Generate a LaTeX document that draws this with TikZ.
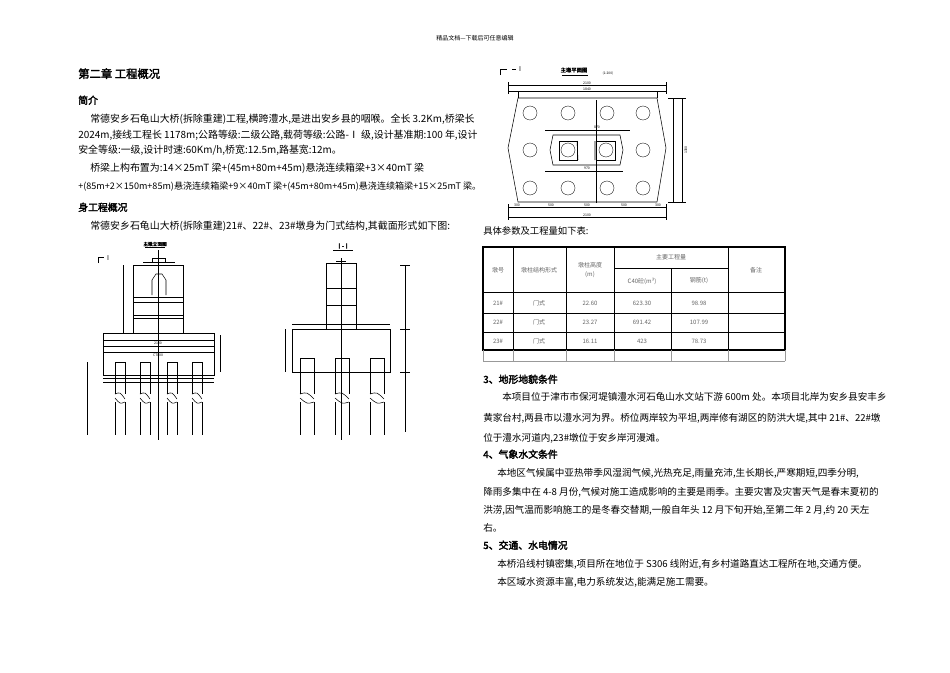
\documentclass[tikz,border=0pt]{standalone}
\usepackage{fontspec}
\setmainfont{Noto Sans CJK SC}[AutoFakeBold=2.5]
\begin{document}
\begin{tikzpicture}[x=0.75pt,y=-0.75pt,
  txt/.style={anchor=base west,inner sep=0,font=\fontsize{7.2}{8}\selectfont},
  ltxt/.style={anchor=base west,inner sep=0,font=\fontsize{7.45}{8}\selectfont},
  hd/.style={anchor=base west,inner sep=0,font=\fontsize{7.4}{8}\bfseries},
  ln/.style={line width=0.4pt},
  thin/.style={line width=0.25pt},
  dim/.style={inner sep=0,font=\fontsize{2.6}{3}\selectfont},
  cell/.style={anchor=center,inner sep=0,font=\fontsize{4.5}{5}\selectfont,text=black!60},
  pile/.style={draw,line width=0.4pt}]
\useasboundingbox (0,0) rectangle (950,672);
\fill[white] (0,0) rectangle (950,672);
\node[inner sep=0,font=\fontsize{4.5}{5}\selectfont] (hdr) at (475,38) {精品文档---下载后可任意编辑};
% left column
\node[anchor=base west,inner sep=0,font=\fontsize{8.5}{9}\bfseries] (ch) at (78,78) {第二章\ 工程概况};
\node[hd] (h1) at (78,104) {简介};
\node[ltxt] (l1) at (90,122) {常德安乡石龟山大桥(拆除重建)工程,横跨澧水,是进出安乡县的咽喉。全长 3.2Km,桥梁长};
\node[ltxt] (l2) at (78,138) {2024m,接线工程长 1178m;公路等级:二级公路,载荷等级:公路-Ⅰ 级,设计基准期:100 年,设计};
\node[ltxt] (l3) at (78,153) {安全等级:一级,设计时速:60Km/h,桥宽:12.5m,路基宽:12m。};
\node[ltxt] (l4) at (90,171) {桥梁上构布置为:14×25mT 梁+(45m+80m+45m)悬浇连续箱梁+3×40mT 梁};
\node[anchor=base west,inner sep=0,font=\fontsize{6.8}{8}\selectfont] (l5) at (78,189) {+(85m+2×150m+85m)悬浇连续箱梁+9×40mT 梁+(45m+80m+45m)悬浇连续箱梁+15×25mT 梁。};
\node[hd] (h2) at (78,211) {身工程概况};
\node[ltxt] (l6) at (90,229) {常德安乡石龟山大桥(拆除重建)21\#、22\#、23\#墩身为门式结构,其截面形式如下图:};
% elevation drawing
\node[inner sep=0,font=\fontsize{3.5}{4}\bfseries] (t1) at (155,244) {主墩立面图};
\draw[thin] (145,247)--(165,247);
\draw[ln] (98,263)--(98,257)--(104,257); \node[inner sep=0,font=\fontsize{5}{5}\selectfont] (sI) at (108,258) {I};
\draw[ln] (133,265) rectangle (183,333);
\draw[ln] (133,297)--(183,297) (133,302)--(183,302) (133,315)--(183,315) (133,318)--(183,318);
\draw[ln] (152,295)--(152,280)--(156,274)--(162,274)--(166,280)--(166,295);
\draw[ln] (143,262)--(175,262) (152,258)--(165,258)--(165,262) (152,258)--(152,262);
\draw[thin] (158,250)--(158,440);
\draw[ln] (103,333) rectangle (214,375);
\draw[ln] (103,340)--(214,340) (103,346)--(214,346) (103,352)--(214,352);
\draw[thin] (103,378)--(214,378) (103,382)--(214,382);
\draw[thin] (123,265)--(123,333) (87,362)--(87,435) (220,335)--(220,372);
\node[dim] (e1) at (158,343) {2100}; \node[dim] (e2) at (158,355) {C7000};
\foreach \c in {120,145,172,197}{
  \draw[pile] (\c-5,362)--(\c-5,394) (\c+5,362)--(\c+5,394) (\c-5,402)--(\c-5,435) (\c+5,402)--(\c+5,435);
  \draw[ln] (\c-5,394)..controls (\c,392) .. (\c+5,399) (\c-5,398)..controls (\c,404)..(\c+5,402);
  \draw[thin] (\c-5,362)--(\c+5,362);}
% I-I section
\node[inner sep=0,font=\fontsize{5}{5}\bfseries] (t2) at (343,246) {I - I};
\draw[thin] (333,250)--(353,250);
\draw[ln] (326,263) rectangle (356,329);
\draw[ln] (326,288)--(356,288) (326,305)--(356,305) (336,261)--(346,261);
\draw[thin] (341,258)--(341,440);
\draw[ln] (292,324)--(390,324);
\draw[ln] (292,329) rectangle (390,372);
\foreach \c in {307,342,377}{
  \draw[pile] (\c-7,358)--(\c-7,394) (\c+7,358)--(\c+7,394) (\c-7,402)--(\c-7,435) (\c+7,402)--(\c+7,435);
  \draw[ln] (\c-7,394)..controls (\c,392) .. (\c+7,399) (\c-7,398)..controls (\c,404)..(\c+7,402);
  \draw[thin] (\c-7,358)--(\c+7,358);}
\draw[thin] (285,329)--(285,372) (405,265)--(405,432) (400,265)--(410,265) (400,329)--(410,329) (400,372)--(410,372);
% plan drawing
\draw[ln] (500,75)--(500,69)--(507,69); \node[inner sep=0,font=\fontsize{5}{5}\selectfont] (pI) at (520,69) {I};
\draw[thin] (512,69)--(516,69);
\node[inner sep=0,font=\fontsize{4}{4}\bfseries] (t3) at (574,70) {主墩平面图};
\node[inner sep=0,font=\fontsize{2.5}{3}\selectfont] (t3b) at (608,73) {(1:200)};
\draw[thin] (562,75)--(588,75);
\draw[ln] (518,98)--(657,98)--(666,148)--(657,202)--(518,202)--(508,148)--cycle;
\draw[thin] (508,85)--(666,85) (508,91)--(666,91) (508,82)--(508,94) (666,82)--(666,94) (518,91)--(518,98) (657,91)--(657,98);
\draw[thin] (508,207)--(666,207) (508,217)--(666,217) (508,204)--(508,220) (666,204)--(666,220);
\draw[thin] (673,98)--(673,202) (682,98)--(682,202) (668,98)--(686,98) (668,202)--(686,202);
\node[dim] (d1) at (587,83) {2100}; \node[dim] (d2) at (587,89) {1840};
\node[dim] (d3) at (587,215) {2100}; \node[dim,rotate=90] (d4) at (686,150) {1300};
\foreach \x/\t in {517/300,551/500,587/500,624/500,658/300} \node[dim] at (\x,205) {\t};
\foreach \x/\y in {530/113,568/113,607/113,643/113,530/150,643/150,530/188,568/188,607/188,643/188}
  \draw[thin] (\x,\y) circle (7);
\draw[ln] (550,150)--(553,135)--(620,135)--(623,150)--(620,165)--(553,165)--cycle;
\draw[ln] (559,141) rectangle (577,160) (596,141) rectangle (615,160);
\draw[thin] (568,150) circle (7) (606,150) circle (7);
\draw[ln] (577,141)--(578,160) (595,141)--(595,160);
\draw[thin] (596,100)--(596,203);
\draw[thin] (545,171)--(623,171) (545,130)--(630,130);
\node[dim] (d5) at (587,168) {970}; \node[dim] (d6) at (597,127) {870};
% table
\node[anchor=base west,inner sep=0,font=\fontsize{7}{8}\selectfont] (tt) at (483,234) {具体参数及工程量如下表:};
\draw[line width=0.8pt] (483,247) rectangle (785,350);
\draw[line width=0.6pt] (483,292)--(785,292) (483,313)--(785,313) (483,332)--(785,332) (614,268)--(728,268);
\draw[line width=0.6pt] (513,247)--(513,350) (566,247)--(566,350) (614,247)--(614,350) (728,247)--(728,350) (671,268)--(671,350);
\draw[thin,black!40] (483,350)--(483,361) (513,350)--(513,361) (566,350)--(566,361) (614,350)--(614,361) (671,350)--(671,361) (728,350)--(728,361) (785,350)--(785,361) (483,361)--(785,361);
\node[cell] (c1) at (498,270) {墩号};
\node[cell] (c2) at (539,270) {墩柱结构形式};
\node[cell] (c3) at (590,265) {墩柱高度};
\node[cell] (c3b) at (590,275) {(m)};
\node[cell] (c4) at (671,257) {主要工程量};
\node[cell] (c5) at (642,281) {C40砼(m³)};
\node[cell] (c6) at (699,281) {钢筋(t)};
\node[cell] (c7) at (756,270) {备注};
\foreach \y/\a/\b/\c/\d in {303/21\#/22.60/623.30/98.98, 322/22\#/23.27/691.42/107.99, 341/23\#/16.11/423/78.73}{
  \node[cell] at (498,\y) {\a};
  \node[cell] at (539,\y) {门式};
  \node[cell] at (590,\y) {\b};
  \node[cell] at (642,\y) {\c};
  \node[cell] at (699,\y) {\d};}
% right text
\node[hd] (h3) at (483,383) {3、地形地貌条件};
\node[txt] (r1) at (502,400) {本项目位于津市市保河堤镇澧水河石龟山水文站下游 600m 处。本项目北岸为安乡县安丰乡};
\node[txt] (r2) at (483,421) {黄家台村,两县市以澧水河为界。桥位两岸较为平坦,两岸修有湖区的防洪大堤,其中 21\#、22\#墩};
\node[txt] (r3) at (483,441) {位于澧水河道内,23\#墩位于安乡岸河漫滩。};
\node[hd] (h4) at (483,458) {4、气象水文条件};
\node[txt] (r4) at (497,476) {本地区气候属中亚热带季风湿润气候,光热充足,雨量充沛,生长期长,严寒期短,四季分明,};
\node[txt] (r5) at (483,495) {降雨多集中在 4-8 月份,气候对施工造成影响的主要是雨季。主要灾害及灾害天气是春末夏初的};
\node[txt] (r6) at (483,513) {洪涝,因气温而影响施工的是冬春交替期,一般自年头 12 月下旬开始,至第二年 2 月,约 20 天左};
\node[txt] (r7) at (483,531) {右。};
\node[hd] (h5) at (483,549) {5、交通、水电情况};
\node[txt] (r8) at (497,567) {本桥沿线村镇密集,项目所在地位于 S306 线附近,有乡村道路直达工程所在地,交通方便。};
\node[txt] (r9) at (497,585) {本区域水资源丰富,电力系统发达,能满足施工需要。};
\end{tikzpicture}
\end{document}
